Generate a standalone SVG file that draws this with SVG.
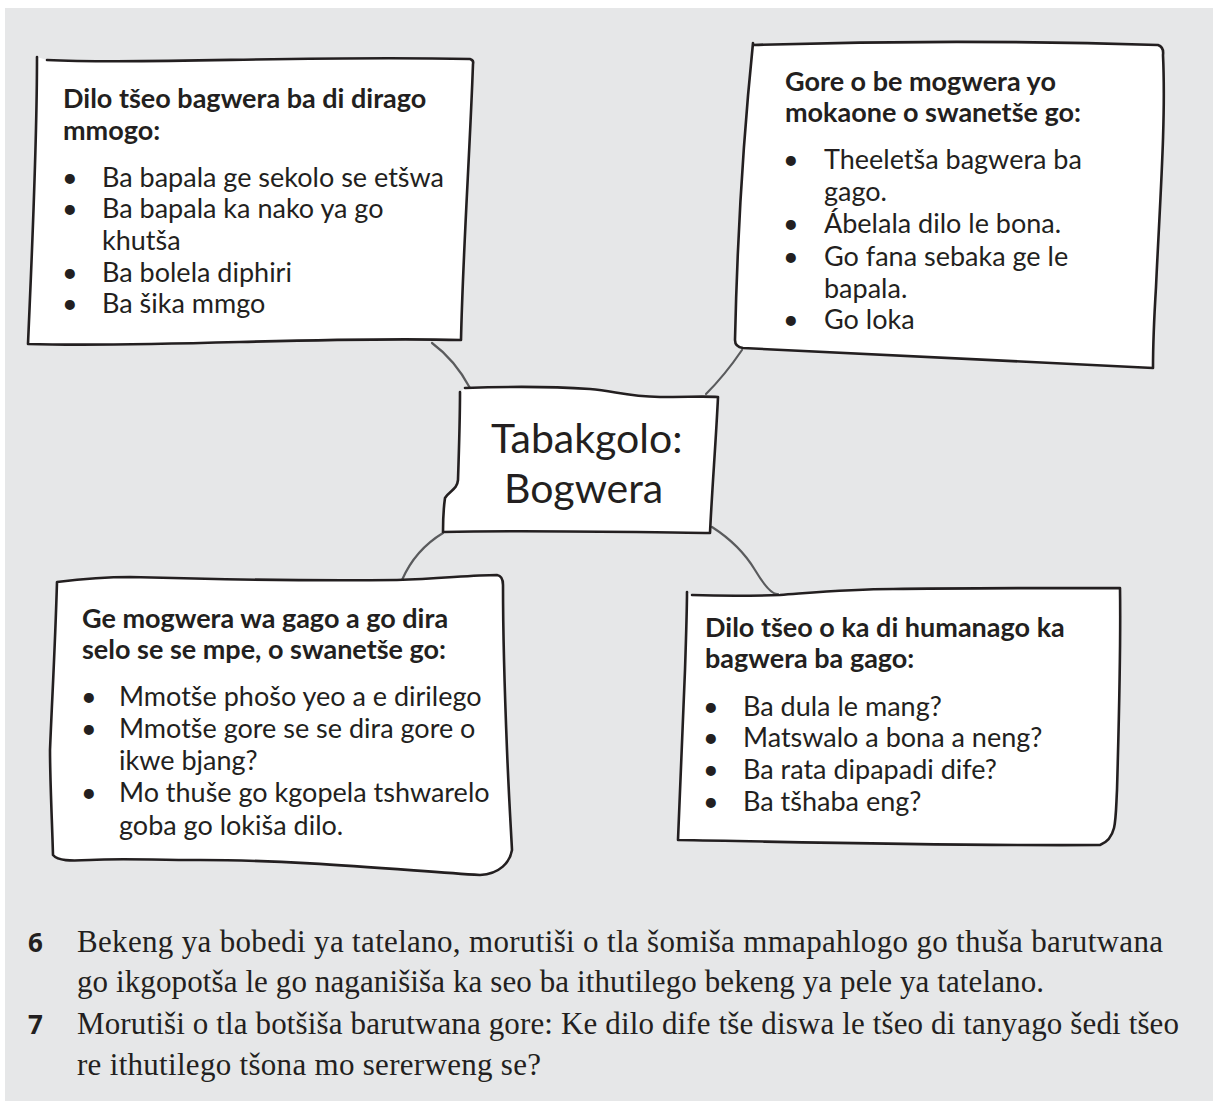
<svg xmlns="http://www.w3.org/2000/svg" width="1213" height="1103" viewBox="0 0 1213 1103">
<style>
.box{fill:#ffffff;stroke:#231f20;stroke-width:2.6;stroke-linejoin:round;stroke-linecap:round}
.conn{fill:none;stroke:#5a5b5d;stroke-width:2.2;stroke-linecap:round}
.h{font-family:Lato,"Noto Sans",sans-serif;font-weight:700;font-size:27px;fill:#231f20}
.t{font-family:Lato,"Noto Sans",sans-serif;font-size:27px;fill:#231f20}
.c{font-family:Lato,"Noto Sans",sans-serif;font-size:41px;fill:#231f20}
.s{font-family:"Liberation Serif",serif;font-size:31px;fill:#231f20}
.n{font-family:"Open Sans","Liberation Sans",sans-serif;font-weight:700;font-size:26px;fill:#231f20}
</style>
<rect x="5" y="8" width="1208" height="1093" fill="#e6e7e8"/>
<g id="connectors">
<path class="conn" d="M432,343 Q455,360 470,388"/>
<path class="conn" d="M742,350 Q725,375 706,394"/>
<path class="conn" d="M443,533 Q415,550 402,580"/>
<path class="conn" d="M712,527 Q740,545 755,570 T778,594"/>
</g>
<g id="box1">
<path class="box" d="M47,60 C150,65 300,55 470,59 Q474,60 473,64 C470,150 463,250 461,340 C320,336 160,348 28,344 C32,250 37,150 37,57"/>
<text class="h" x="63" y="108">Dilo tšeo bagwera ba di dirago</text>
<text class="h" x="63" y="140">mmogo:</text>
<g class="t">
<text x="62" y="187">•</text><text x="102" y="187">Ba bapala ge sekolo se etšwa</text>
<text x="62" y="218">•</text><text x="102" y="218">Ba bapala ka nako ya go</text>
<text x="102" y="250">khutša</text>
<text x="62" y="282">•</text><text x="102" y="282">Ba bolela diphiri</text>
<text x="62" y="313">•</text><text x="102" y="313">Ba šika mmgo</text>
</g>
</g>
<g id="box2">
<path class="box" d="M753,45 C850,42 1000,40 1158,45 Q1164,47 1163,55 C1166,120 1160,200 1156,287 C1154,320 1153,345 1153,368 C1000,360 850,352 743,348 Q735,347 735,340 C737,250 742,150 753,43 Z"/>
<text class="h" x="785" y="91">Gore o be mogwera yo</text>
<text class="h" x="785" y="122">mokaone o swanetše go:</text>
<g class="t">
<text x="783" y="169">•</text><text x="824" y="169">Theeletša bagwera ba</text>
<text x="824" y="201">gago.</text>
<text x="783" y="233">•</text><text x="824" y="233">Ábelala dilo le bona.</text>
<text x="783" y="266">•</text><text x="824" y="266">Go fana sebaka ge le</text>
<text x="824" y="298">bapala.</text>
<text x="783" y="329">•</text><text x="824" y="329">Go loka</text>
</g>
</g>
<g id="center">
<path class="box" d="M465,388 C520,386 560,387 590,389 C615,391 625,396 660,397 C690,397 705,396 718,397 C716,440 712,490 710,533 C620,532 530,530 443,532 C443,520 444,505 445,498 C450,490 457,490 458,480 C459,450 460,420 460,392"/>
<text class="c" x="491" y="453">Tabakgolo:</text>
<text class="c" x="504" y="503">Bogwera</text>
</g>
<g id="box3">
<path class="box" d="M57,582 C90,578 110,577 130,577 C200,579 300,581 397,580 C440,579 470,575 497,575 Q503,576 503,585 C503,650 505,700 507,750 C509,800 511,830 512,850 C510,862 500,874 480,875 C400,870 300,860 200,860 C150,860 120,858 90,860 C70,861 58,861 53,855 C52,820 50,780 50,750 C52,700 55,650 57,582 Z"/>
<text class="h" x="82" y="628">Ge mogwera wa gago a go dira</text>
<text class="h" x="82" y="659">selo se se mpe, o swanetše go:</text>
<g class="t">
<text x="81" y="706">•</text><text x="119" y="706">Mmotše phošo yeo a e dirilego</text>
<text x="81" y="738">•</text><text x="119" y="738">Mmotše gore se se dira gore o</text>
<text x="119" y="770">ikwe bjang?</text>
<text x="81" y="802">•</text><text x="119" y="802">Mo thuše go kgopela tshwarelo</text>
<text x="119" y="835">goba go lokiša dilo.</text>
</g>
</g>
<g id="box4">
<path class="box" d="M692,595 C720,596 750,596 780,595 C820,592 850,589 893,589 C950,588 1050,588 1120,588 C1121,650 1119,720 1117,790 C1116,810 1116,820 1114,828 C1112,836 1108,842 1100,845 C950,846 800,842 678,840 C680,780 683,720 685,670 C686,640 687,610 687,592"/>
<text class="h" x="705" y="637">Dilo tšeo o ka di humanago ka</text>
<text class="h" x="705" y="668">bagwera ba gago:</text>
<g class="t">
<text x="703" y="716">•</text><text x="743" y="716">Ba dula le mang?</text>
<text x="703" y="747">•</text><text x="743" y="747">Matswalo a bona a neng?</text>
<text x="703" y="779">•</text><text x="743" y="779">Ba rata dipapadi dife?</text>
<text x="703" y="811">•</text><text x="743" y="811">Ba tšhaba eng?</text>
</g>
</g>
<g id="footer">
<text class="n" x="28" y="952">6</text>
<text class="s" x="77" y="952" textLength="1086">Bekeng ya bobedi ya tatelano, morutiši o tla šomiša mmapahlogo go thuša barutwana</text>
<text class="s" x="77" y="992" textLength="967">go ikgopotša le go naganišiša ka seo ba ithutilego bekeng ya pele ya tatelano.</text>
<text class="n" x="28" y="1034">7</text>
<text class="s" x="77" y="1034" textLength="1102">Morutiši o tla botšiša barutwana gore: Ke dilo dife tše diswa le tšeo di tanyago šedi tšeo</text>
<text class="s" x="77" y="1075" textLength="464">re ithutilego tšona mo sererweng se?</text>
</g>
</svg>
